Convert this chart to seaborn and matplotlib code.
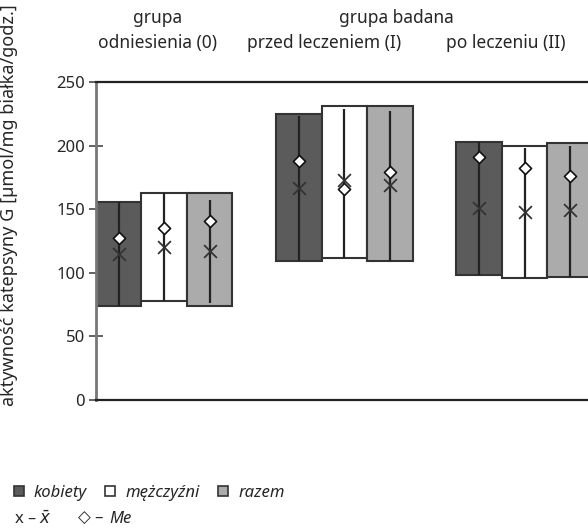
import matplotlib
matplotlib.use("Agg")
import matplotlib.pyplot as plt
import seaborn as sns
import pandas as pd
from matplotlib.patches import Patch

# ---- data ----
groups = ["odniesienia (0)", "przed leczeniem (I)", "po leczeniu (II)"]
series = ["kobiety", "mężczyźni", "razem"]
range_min = [[74, 78, 74], [109, 112, 109], [98, 96, 97]]
range_max = [[156, 163, 163], [225, 231, 231], [203, 200, 202]]
line_min = [[74, 78, 76], [109, 112, 109], [98, 96, 97]]
line_max = [[156, 163, 157], [223, 229, 227], [203, 198, 200]]
mean_vals = [[115, 120, 117], [167, 173, 169], [151, 148, 149]]
median_vals = [[127, 135, 141], [188, 166, 179], [191, 182, 176]]
yticks = [0, 50, 100, 150, 200, 250]

fills = {"kobiety": "#5b5b5b", "mężczyźni": "#ffffff", "razem": "#ababab"}
edge = "#333333"

rows = []
for gi, g in enumerate(groups):
    for si, s in enumerate(series):
        rows.append(dict(group=g, series=s, x=gi * 3.96 + (si - 1),
                         lo=range_min[gi][si], hi=range_max[gi][si],
                         wlo=line_min[gi][si], whi=line_max[gi][si],
                         mean=mean_vals[gi][si], median=median_vals[gi][si]))
df = pd.DataFrame(rows)

sns.set_style("white")
plt.rcParams["font.family"] = ["Noto Sans", "DejaVu Sans"]

fig = plt.figure(figsize=(5.88, 5.28), dpi=100)
ax = fig.add_axes([96 / 588, 1 - 400 / 528, 492 / 588, 318 / 528])

ax.bar(df["x"], df["hi"] - df["lo"], bottom=df["lo"], width=1.0,
       color=[fills[s] for s in df["series"]], edgecolor=edge, linewidth=1.5, zorder=2)
ax.vlines(df["x"], df["wlo"], df["whi"], color="#222222", linewidth=1.6, zorder=3)
sns.scatterplot(data=df, x="x", y="mean", marker="x", s=85, color="#333333",
                linewidth=1.3, ax=ax, legend=False, zorder=4)
sns.scatterplot(data=df, x="x", y="median", marker="D", s=38, color="white",
                edgecolor="#111111", linewidth=1.2, ax=ax, legend=False, zorder=5)

ax.set_xlim(-1.5, -1.5 + 492 / 45.5)
ax.set_ylim(0, 250)
ax.set_yticks(yticks)
ax.set_yticklabels([str(t) for t in yticks], fontsize=12)
ax.set_xticks([])
ax.set_xlabel("")
ax.tick_params(axis="y", direction="inout", length=10, width=1.3, color="#555555",
               pad=3, left=True)
ax.spines["left"].set_color("#777777")
ax.spines["left"].set_linewidth(2)
for side in ["top", "bottom"]:
    ax.spines[side].set_color("#222222")
    ax.spines[side].set_linewidth(1.6)
ax.spines["right"].set_visible(False)

ax.set_ylabel("aktywność katepsyny G [µmol/mg białka/godz.]", fontsize=13)
ax.yaxis.set_label_coords(-0.158, 0.613)

# headers
hdr = dict(fontsize=12.5, ha="center", va="center")
fig.text(158 / 588, 1 - 18 / 528, "grupa", **hdr)
fig.text(157 / 588, 1 - 43 / 528, "odniesienia (0)", **hdr)
fig.text(396 / 588, 1 - 18 / 528, "grupa badana", **hdr)
fig.text(324 / 588, 1 - 43 / 528, "przed leczeniem (I)", **hdr)
fig.text(506 / 588, 1 - 43 / 528, "po leczeniu (II)", **hdr)

# legend
handles = [Patch(facecolor=fills[s], edgecolor=edge, linewidth=1.2) for s in series]
fig.legend(handles, series, loc="center left", bbox_to_anchor=(14 / 588, 1 - 493 / 528),
           ncol=3, frameon=False, prop=dict(style="italic", size=12),
           handlelength=0.6, handleheight=0.6, handletextpad=0.6, columnspacing=1.1,
           borderaxespad=0, borderpad=0)
fig.text(14 / 588, 1 - 519 / 528, "x – $\\bar{x}$", fontsize=12, va="center", ha="left")
fig.text(78 / 588, 1 - 519 / 528, "◇ –", fontsize=12, va="center", ha="left")
fig.text(109 / 588, 1 - 519 / 528, "Me", fontsize=12, va="center", ha="left", style="italic")

fig.savefig("out.png", dpi=100)
